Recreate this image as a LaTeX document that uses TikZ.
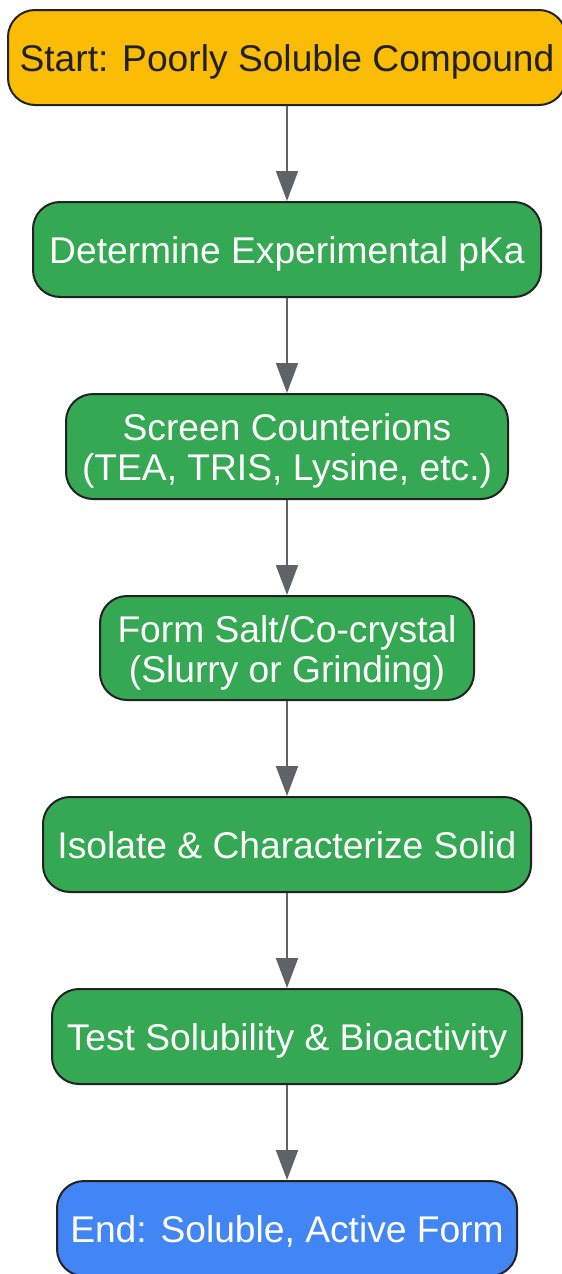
\documentclass[tikz,border=0pt]{standalone}
\usepackage{fontspec}
\setmainfont{Liberation Sans}
\usetikzlibrary{arrows.meta}
\definecolor{gyellow}{HTML}{FBBC05}
\definecolor{ggreen}{HTML}{34A853}
\definecolor{gblue}{HTML}{4285F4}
\definecolor{gline}{HTML}{5F6368}
\definecolor{gborder}{HTML}{222222}
\definecolor{gtext}{HTML}{202124}
\newcommand{\boxtext}[1]{\raisebox{-6pt}[\height][\depth]{\begin{tabular}{@{}c@{}}#1\end{tabular}}}
\tikzset{
  box/.style={draw=gborder, line width=2pt, rounded corners=27pt, inner sep=0pt,
    align=center, font=\fontsize{37.2}{40}\selectfont},
  startbox/.style={box, fill=gyellow, text=gtext},
  stepbox/.style={box, fill=ggreen, text=white},
  endbox/.style={box, fill=gblue, text=white},
  conn/.style={draw=gline, line width=2pt, -{Triangle[length=30pt,width=22pt]}}
}
\begin{document}
\begin{tikzpicture}[x=1pt,y=-1pt]
\useasboundingbox (0,0) rectangle (562,1274);
\node[startbox, minimum width=558pt, minimum height=95pt] (n1) at (287,57.5) {\boxtext{Start: Poorly Soluble Compound}};
\node[stepbox, minimum width=508pt, minimum height=95pt] (n2) at (287,249.5) {\boxtext{Determine Experimental pKa}};
\node[stepbox, minimum width=442pt, minimum height=105pt] (n3) at (287,446.5) {\boxtext{Screen Counterions\\(TEA, TRIS, Lysine, etc.)}};
\node[stepbox, minimum width=374pt, minimum height=104pt] (n4) at (287,648) {\boxtext{Form Salt/Co-crystal\\(Slurry or Grinding)}};
\node[stepbox, minimum width=488pt, minimum height=95pt] (n5) at (287,844.5) {\boxtext{Isolate \& Characterize Solid}};
\node[stepbox, minimum width=470pt, minimum height=95pt] (n6) at (287,1036.5) {\boxtext{Test Solubility \& Bioactivity}};
\node[endbox, minimum width=460pt, minimum height=95pt] (n7) at (287,1228.5) {\boxtext{End: Soluble, Active Form}};
\draw[conn] (n1) -- (n2);
\draw[conn] (n2) -- (n3);
\draw[conn] (n3) -- (n4);
\draw[conn] (n4) -- (n5);
\draw[conn] (n5) -- (n6);
\draw[conn] (n6) -- (n7);
\end{tikzpicture}
\end{document}
